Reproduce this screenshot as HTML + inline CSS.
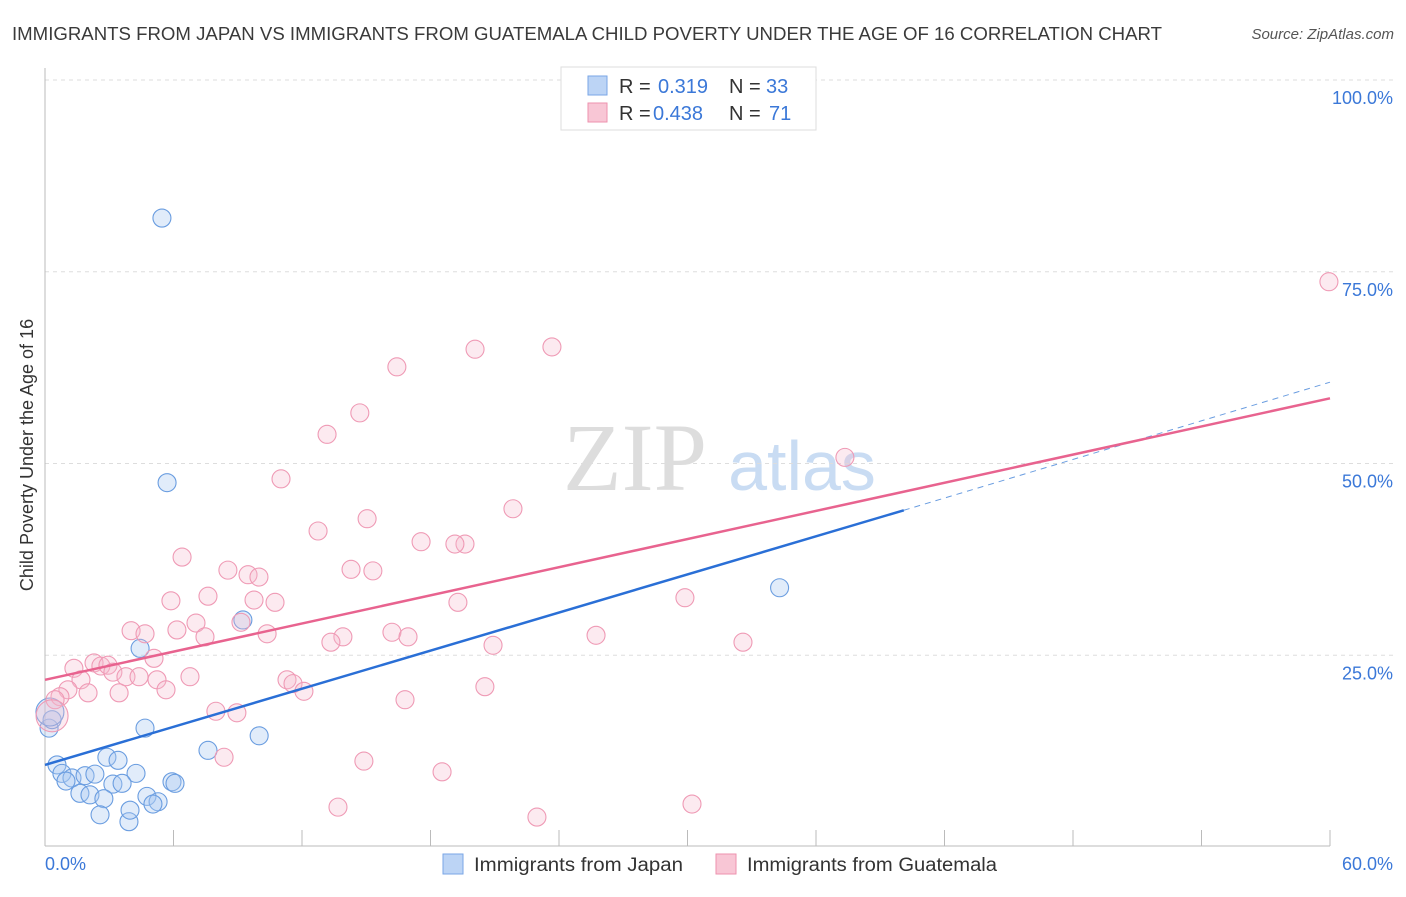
<!DOCTYPE html>
<html><head><meta charset="utf-8"><style>
body{margin:0;background:#fff;font-family:"Liberation Sans",sans-serif}
</style></head><body>
<svg width="1406" height="892" viewBox="0 0 1406 892" xmlns="http://www.w3.org/2000/svg">
<text x="12" y="40" font-size="18" fill="#3a3a3a" textLength="1150" lengthAdjust="spacingAndGlyphs">IMMIGRANTS FROM JAPAN VS IMMIGRANTS FROM GUATEMALA CHILD POVERTY UNDER THE AGE OF 16 CORRELATION CHART</text>
<text x="1394" y="39" font-size="15" fill="#555" font-style="italic" text-anchor="end">Source: ZipAtlas.com</text>
<g>
<text x="635" y="490" font-size="96" font-family="Liberation Serif,serif" fill="#ddd" text-anchor="middle">ZIP</text>
<text x="802" y="490" font-size="70" fill="#c9dcf3" text-anchor="middle">atlas</text>
</g>
<g id="grid"></g>
<line x1="45" y1="68" x2="45" y2="846" stroke="#bbb"/>
<line x1="45" y1="846" x2="1330" y2="846" stroke="#bbb"/>
<g id="ticks"></g>
<text x="33" y="455" font-size="18" fill="#333" text-anchor="middle" transform="rotate(-90 33 455)">Child Poverty Under the Age of 16</text>
<text x="45" y="870" font-size="18" fill="#3b78d8">0.0%</text>
<text x="1393" y="870" font-size="18" fill="#3b78d8" text-anchor="end">60.0%</text>
<g id="pts"></g>
<g id="lines"></g>
<g>
<rect x="561" y="67" width="255" height="63" fill="#fff" stroke="#ddd"/>
<rect x="588" y="76" width="19" height="19" fill="#bcd4f5" stroke="#7aa6e6"/>
<rect x="588" y="103" width="19" height="19" fill="#f8c6d5" stroke="#ee92ae"/>
<text x="619" y="93" font-size="20" fill="#333">R = </text><text x="658" y="93" font-size="20" fill="#3b78d8">0.319</text>
<text x="729" y="93" font-size="20" fill="#333">N = </text><text x="766" y="93" font-size="20" fill="#3b78d8">33</text>
<text x="619" y="120" font-size="20" fill="#333">R = </text><text x="653" y="120" font-size="20" fill="#3b78d8">0.438</text>
<text x="729" y="120" font-size="20" fill="#333">N = </text><text x="769" y="120" font-size="20" fill="#3b78d8">71</text>
</g>
<g>
<rect x="443" y="854" width="20" height="20" fill="#bcd4f5" stroke="#7aa6e6"/>
<text x="474" y="871" font-size="19" fill="#333" textLength="209" lengthAdjust="spacingAndGlyphs">Immigrants from Japan</text>
<rect x="716" y="854" width="20" height="20" fill="#f8c6d5" stroke="#ee92ae"/>
<text x="747" y="871" font-size="19" fill="#333" textLength="250" lengthAdjust="spacingAndGlyphs">Immigrants from Guatemala</text>
</g>
</svg>
<script>
const yTicks=[25,50,75,100];
const yTickLabels=["25.0%","50.0%","75.0%","100.0%"];
const xTicks=[0,6,12,18,24,30,36,42,48,54,60];
const japanX=[5.46,5.70,9.24,4.44,34.3,4.67,10.0,7.61,2.89,3.41,0.56,0.79,1.26,1.87,2.33,0.98,4.25,3.17,3.60,1.63,2.10,2.75,4.76,5.28,5.04,5.93,6.07,2.57,3.92,3.97,0.19,0.33,0.23];
const japanY=[82.0,47.5,29.6,25.9,33.8,15.5,14.5,12.6,11.7,11.3,10.7,9.6,9.0,9.3,9.5,8.6,9.6,8.2,8.3,7.0,6.8,6.3,6.6,5.9,5.6,8.5,8.3,4.2,3.3,4.8,15.5,16.6,17.6];
const japanR=[9,9,9,9,9,9,9,9,9,9,9,9,9,9,9,9,9,9,9,9,9,9,9,9,9,9,9,9,9,9,9,9,14];
const guatX=[59.95,23.67,20.08,16.43,14.7,13.17,37.35,11.02,21.85,15.04,12.75,17.56,19.61,19.14,6.40,14.29,15.31,8.54,9.48,9.99,7.61,5.88,9.76,10.74,19.28,29.88,7.05,9.15,4.02,4.67,6.16,7.47,10.37,16.2,16.95,13.91,13.35,25.73,32.59,20.92,1.35,2.29,2.61,2.94,3.17,3.78,4.39,5.09,5.23,6.77,1.68,1.07,2.01,3.46,5.65,11.3,11.58,12.09,20.54,16.81,0.70,0.47,7.98,8.96,8.36,14.89,18.54,13.68,30.21,22.97,0.33];
const guatY=[73.7,65.2,64.9,62.6,56.6,53.8,50.8,48.0,44.1,42.8,41.2,39.8,39.5,39.5,37.8,36.2,36.0,36.1,35.5,35.2,32.7,32.1,32.2,31.9,31.9,32.5,29.2,29.3,28.2,27.8,28.3,27.4,27.8,28.0,27.4,27.4,26.7,27.6,26.7,26.3,23.3,24.0,23.6,23.7,22.8,22.2,22.2,24.6,21.8,22.2,21.8,20.5,20.1,20.1,20.5,21.8,21.3,20.3,20.9,19.2,19.6,19.2,17.7,17.5,11.7,11.2,9.8,5.2,5.6,3.9,17.1];
const blueTrend=[[0,10.7],[40.1,43.9]];
const blueDash=[[40.1,43.9],[60,60.6]];
const pinkTrend=[[0,21.8],[60,58.5]];
const X=v=>45+v/60*1285, Y=v=>847-v/100*767;
const NS="http://www.w3.org/2000/svg";
function mk(t,a,p){const e=document.createElementNS(NS,t);for(const k in a)e.setAttribute(k,a[k]);p.appendChild(e);return e;}
const grid=document.getElementById('grid'),ticks=document.getElementById('ticks'),pts=document.getElementById('pts'),lines=document.getElementById('lines');
yTicks.forEach((v,i)=>{const l=mk('line',{x1:45,x2:1393,y1:Y(v),y2:Y(v),stroke:'#ddd','stroke-dasharray':'4 4'},grid);


const t=mk('text',{x:1393,y:Y(v)+24,'font-size':18,fill:'#3b78d8','text-anchor':'end'},ticks);t.textContent=yTickLabels[i];

});
xTicks.forEach(v=>{const l=mk('line',{x1:X(v),x2:X(v),y1:830,y2:846,stroke:'#bbb'},ticks);

});
japanX.forEach((v,i)=>{const c=mk('circle',{cx:X(v),cy:Y(japanY[i]),r:japanR[i],fill:'rgba(170,200,240,0.35)',stroke:'#6a9de0','stroke-width':1.1},pts);

});
guatX.forEach((v,i)=>{const r=i==guatX.length-1?16:9;const c=mk('circle',{cx:X(v),cy:Y(guatY[i]),r:r,fill:'rgba(246,185,205,0.3)',stroke:'#ef9ab5','stroke-width':1.1},pts);

});
function ln(a,st,w,d,n){const l=mk('line',{x1:X(a[0][0]),y1:Y(a[0][1]),x2:X(a[1][0]),y2:Y(a[1][1]),stroke:st,'stroke-width':w},lines);if(d)l.setAttribute('stroke-dasharray',d);

}
ln(blueDash,'#6a9de0',1,'6 5','japan-trend-extension');
ln(blueTrend,'#2a6fd6',2.5,null,'japan-trend-line');
ln(pinkTrend,'#e8638f',2.5,null,'guatemala-trend-line');
</script>
</body></html>
